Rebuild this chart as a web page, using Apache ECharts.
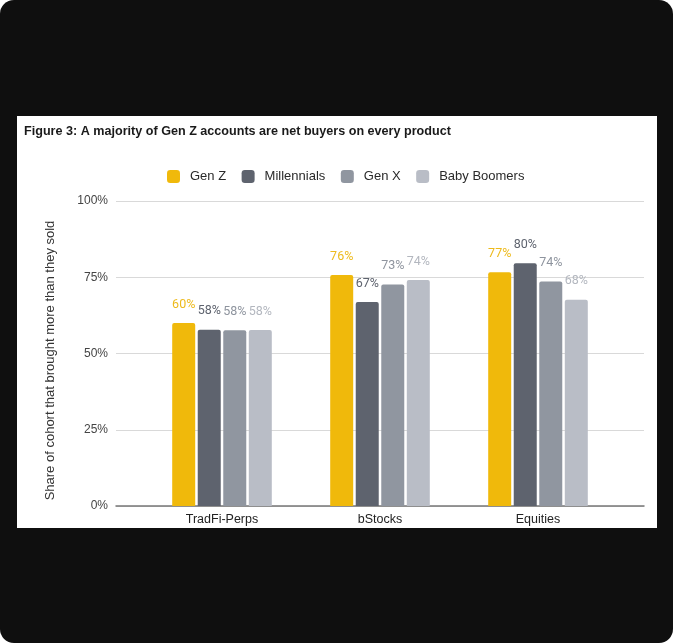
<!DOCTYPE html>
<html>
<head>
<meta charset="utf-8">
<script src="https://cdn.jsdelivr.net/npm/echarts@6/dist/echarts.min.js"></script>
<style>
    html, body { margin: 0; padding: 0; background: #ffffff; }
    #frame { position: absolute; left: 0; top: 0; width: 673px; height: 643px; background: #0f0f0f; border-radius: 14px; }
    #panel { position: absolute; left: 17px; top: 116px; width: 640px; height: 412px; background: #ffffff; }
    #chart { position: absolute; left: 0; top: 0; width: 673px; height: 643px; }
</style>
</head>
<body>
<div id="frame"></div>
<div id="panel"></div>
<div id="chart"></div>
<script>
    // 数据
    var categories = ["TradFi-Perps", "bStocks", "Equities"];
    var cohorts = ["Gen Z", "Millennials", "Gen X", "Baby Boomers"];
    var genZ = [0.600, 0.757, 0.766];
    var millennials = [0.578, 0.669, 0.796];
    var genX = [0.576, 0.726, 0.736];
    var boomers = [0.577, 0.741, 0.676];
    var yTicks = [0, 0.25, 0.5, 0.75, 1];

    var colors = ["#F0B90B", "#5E636E", "#9096A0", "#B9BDC6"];
    var labelColors = ["#EDBA1C", "#5E636E", "#8E949E", "#B3B7BF"];
    var seriesData = [genZ, millennials, genX, boomers];

    var font = "'Liberation Sans', Arial, sans-serif";

    /**
     * 生成柱状系列
     * @param i
     */
    function makeSeries(i) {
        return {
            name: cohorts[i],
            type: "bar",
            xAxisIndex: 1,
            yAxisIndex: 1,
            data: seriesData[i],
            barWidth: 23,
            barGap: "11%",
            itemStyle: { color: colors[i], borderRadius: [2, 2, 0, 0] },
            label: {
                show: true,
                position: "top",
                distance: 12,
                color: labelColors[i],
                fontFamily: "Roboto, sans-serif",
                fontSize: 12.5,
                formatter: function (p) { return Math.round(p.value * 100) + "%"; }
            }
        };
    }

    var chart = echarts.init(document.getElementById("chart"));
    chart.setOption({
        backgroundColor: "transparent",
        animation: false,
        title: {
            text: "Figure 3: A majority of Gen Z accounts are net buyers on every product",
            left: 19,
            top: 120,
            textStyle: { fontFamily: font, fontWeight: "bold", fontSize: 12.6, color: "#1a1a1a" }
        },
        legend: {
            data: cohorts,
            left: 162,
            top: 165,
            icon: "roundRect",
            itemWidth: 13,
            itemHeight: 13,
            itemGap: 15.5,
            textStyle: { fontFamily: font, fontSize: 13, color: "#2a2a2a", padding: [0, 0, 0, 5] }
        },
        grid: [
            { left: 116, right: 29, top: 201, bottom: 137 },
            { left: 143, right: 56, top: 201, bottom: 137 }
        ],
        xAxis: [
            {
                gridIndex: 0,
                type: "category",
                data: [""],
                axisLine: { show: true, lineStyle: { color: "#777777", width: 1.5 } },
                axisTick: { show: false },
                axisLabel: { show: false }
            },
            {
                gridIndex: 1,
                type: "category",
                data: categories,
                axisLine: { show: false },
                axisTick: { show: false },
                axisLabel: { margin: 7, fontFamily: font, fontSize: 12.5, color: "#222222" }
            }
        ],
        yAxis: [
            {
                gridIndex: 0,
                type: "value",
                min: yTicks[0],
                max: yTicks[yTicks.length - 1],
                interval: yTicks[1] - yTicks[0],
                name: "Share of cohort that brought more than they sold",
                nameLocation: "middle",
                nameGap: 59,
                nameTextStyle: { fontFamily: font, fontSize: 13, color: "#333333", padding: [0, 14, 0, 0] },
                axisLine: { show: false },
                axisTick: { show: false },
                axisLabel: {
                    margin: 8,
                    fontFamily: font,
                    fontSize: 12,
                    color: "#444444",
                    formatter: function (v) { return Math.round(v * 100) + "%"; }
                },
                splitLine: { lineStyle: { color: "#d9d9d9", width: 1 } }
            },
            {
                gridIndex: 1,
                type: "value",
                min: 0,
                max: 1,
                show: false,
                splitLine: { show: false }
            }
        ],
        series: [makeSeries(0), makeSeries(1), makeSeries(2), makeSeries(3)]
    });
</script>
</body>
</html>
